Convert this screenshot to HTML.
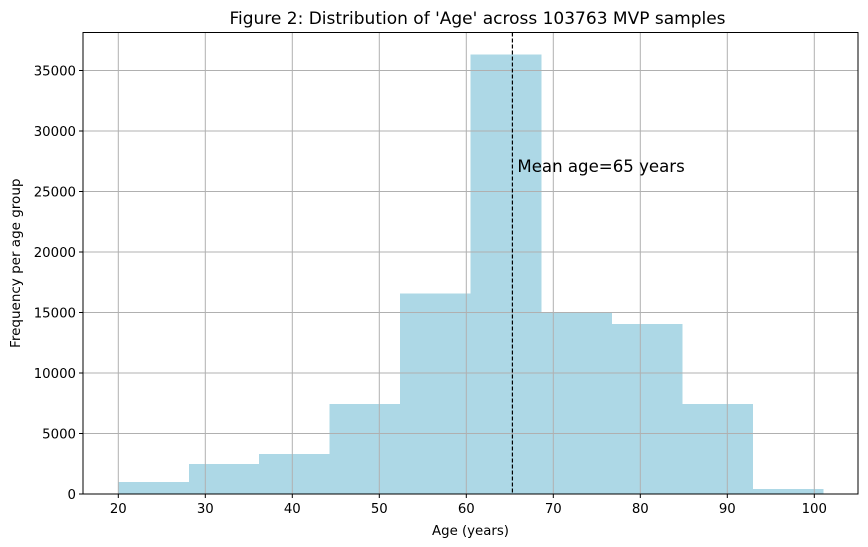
<!DOCTYPE html>
<html><head><meta charset="utf-8"><style>
body{margin:0;background:#fff;}
svg{display:block;font-family:"DejaVu Sans","Liberation Sans",sans-serif;}
</style></head><body>
<svg id="chart" width="868" height="547" xmlns="http://www.w3.org/2000/svg"></svg>
<script>
const binEdges=[20,28.1,36.2,44.3,52.4,60.5,68.6,76.7,84.8,92.9,101];
const counts=[990,2476,3300,7430,16590,36320,14940,14030,7430,410];
const xTicks=[20,30,40,50,60,70,80,90,100];
const yTicks=[0,5000,10000,15000,20000,25000,30000,35000];
const meanAge=65.3;
const L=83,R=858,T=32.5,B=494;
const xs=v=>118.3+(v-20)*8.7;
const ys=v=>B-v*(60.5/5000);
const svg=document.getElementById('chart');
const NS='http://www.w3.org/2000/svg';
function mk(tag,attrs,parent){const e=document.createElementNS(NS,tag);for(const k in attrs)e.setAttribute(k,attrs[k]);(parent||svg).appendChild(e);return e;}
for(let i=0;i<counts.length;i++){
  const x0=xs(binEdges[i]),x1=xs(binEdges[i+1]);
  const r=mk('rect',{x:x0,y:ys(counts[i]),width:x1-x0+0.5,height:B-ys(counts[i]),fill:'#add8e6','shape-rendering':'crispEdges'});
  
  
}
for(const t of xTicks){
  const x=xs(t);
  const g=mk('line',{x1:x,x2:x,y1:T,y2:B,stroke:'#b0b0b0','stroke-width':1});
  
  
  mk('line',{x1:x,x2:x,y1:B,y2:B+4,stroke:'#000','stroke-width':1});
  const tx=mk('text',{x:x,y:B+19,'text-anchor':'middle','font-size':13.3,fill:'#000'});
  tx.textContent=t;
  
  
}
for(const t of yTicks){
  const y=ys(t);
  const g=mk('line',{x1:L,x2:R,y1:y,y2:y,stroke:'#b0b0b0','stroke-width':1});
  
  
  mk('line',{x1:L-4,x2:L,y1:y,y2:y,stroke:'#000','stroke-width':1});
  const tx=mk('text',{x:L-7,y:y+5,'text-anchor':'end','font-size':13.3,fill:'#000'});
  tx.textContent=t;
  
  
}
const mx=xs(meanAge);
const ml=mk('line',{x1:mx,x2:mx,y1:T,y2:B,stroke:'#000','stroke-width':1.2,'stroke-dasharray':'4,2'});


const mt=mk('text',{x:mx+5,y:172,'font-size':16.6,fill:'#000'});
mt.textContent='Mean age=65 years';


const fr=mk('rect',{x:L,y:T,width:R-L,height:B-T,fill:'none',stroke:'#000','stroke-width':1});


const ti=mk('text',{x:(L+R)/2+7,y:24,'text-anchor':'middle','font-size':17,fill:'#000'});
ti.textContent="Figure 2: Distribution of 'Age' across 103763 MVP samples";


const xl=mk('text',{x:(L+R)/2,y:535,'text-anchor':'middle','font-size':13.3,fill:'#000'});
xl.textContent='Age (years)';


const yl=mk('text',{x:0,y:0,'text-anchor':'middle','font-size':13.5,fill:'#000',transform:'translate(20,'+((T+B)/2)+') rotate(-90)'});
yl.textContent='Frequency per age group';


</script>
</body></html>
